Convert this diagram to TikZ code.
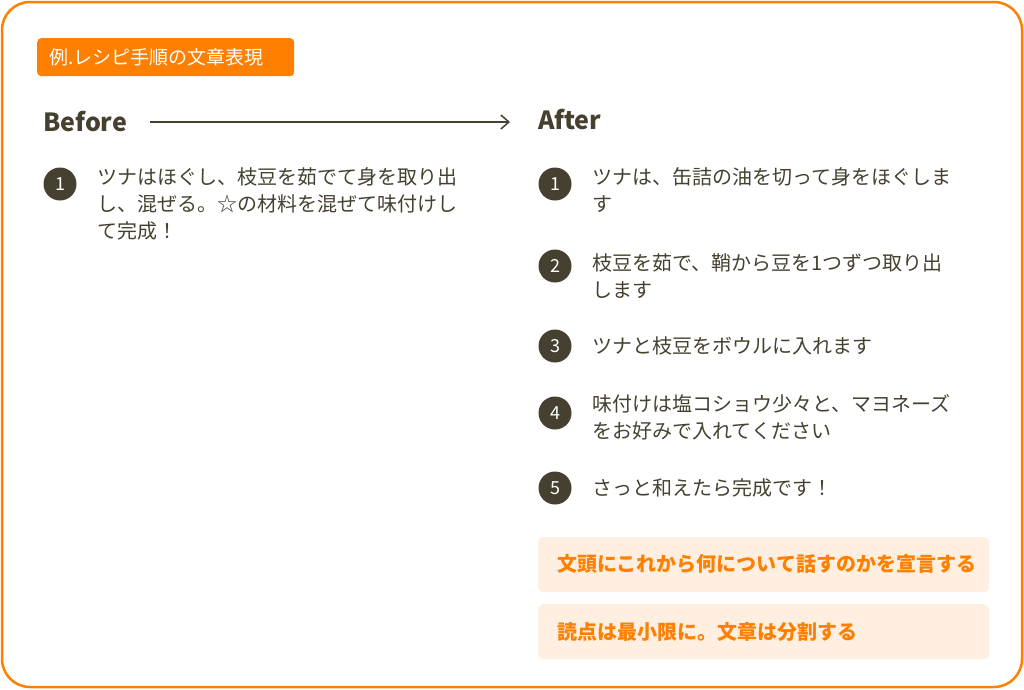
\documentclass[tikz,border=0pt]{standalone}
\usepackage{fontspec}
\setmainfont{Noto Sans CJK JP}
\usetikzlibrary{arrows.meta,positioning}
\definecolor{brandorange}{HTML}{FF8000}
\definecolor{inkdark}{HTML}{464030}
\definecolor{notefill}{HTML}{FFEFE0}

\begin{document}
\begin{tikzpicture}[
    x=1pt, y=-1pt,
    stepnum/.style={circle, fill=inkdark, text=white, minimum size=33pt, inner sep=0pt, font=\fontsize{18}{18}\selectfont},
    steptext/.style={anchor=west, text=inkdark, align=left, inner sep=0pt, font=\fontsize{20}{27}\selectfont},
    heading/.style={anchor=west, text=inkdark, inner sep=0pt, font=\fontsize{25}{25}\selectfont\bfseries},
    notebox/.style={rounded corners=5pt, fill=notefill, anchor=north west, minimum width=451pt, minimum height=55pt, inner sep=0pt},
    notetext/.style={anchor=west, text=brandorange, inner sep=0pt, font=\fontsize{20}{20}\selectfont\bfseries}
]
\useasboundingbox (0,0) rectangle (1024,689);

% Frame
\draw[brandorange, line width=2.5pt, rounded corners=28pt] (2,2) rectangle (1022,687);

% Tag
\node[fill=brandorange, rounded corners=4pt, anchor=north west, minimum width=257pt, minimum height=38pt, inner sep=0pt] (tag) at (37,38) {};
\node[anchor=west, text=white, inner sep=0pt, font=\fontsize{19}{19}\selectfont] (tagtext) at (49,57) {例.レシピ手順の文章表現};

% Headings
\node[heading] (before) at (43,122) {Before};
\node[heading] (after) at (538,120) {After};
\coordinate (arrowstart) at (150,122);
\coordinate (arrowend) at (510,122);
\draw[inkdark, line width=1.5pt, -{Straight Barb[length=8pt, width=14pt]}] (arrowstart) -- (arrowend);

% Before
\node[stepnum] (b1) at (60,184) {1};
\node[steptext] (bt1) at (97,204) {ツナはほぐし、枝豆を茹でて身を取り出\\し、混ぜる。☆の材料を混ぜて味付けし\\て完成！};

% After
\node[stepnum] (a1) at (555,184) {1};
\node[steptext] (at1) at (592,190) {ツナは、缶詰の油を切って身をほぐしま\\す};
\node[stepnum] (a2) at (555,266) {2};
\node[steptext] (at2) at (592,276) {枝豆を茹で、鞘から豆を1つずつ取り出\\します};
\node[stepnum] (a3) at (555,346) {3};
\node[steptext] (at3) at (592,346) {ツナと枝豆をボウルに入れます};
\node[stepnum] (a4) at (555,413) {4};
\node[steptext] (at4) at (592,417) {味付けは塩コショウ少々と、マヨネーズ\\をお好みで入れてください};
\node[stepnum] (a5) at (555,488) {5};
\node[steptext] (at5) at (592,488) {さっと和えたら完成です！};

% Notes
\node[notebox] (n1) at (538,537) {};
\node[notetext] (nt1) at (557,564) {文頭にこれから何について話すのかを宣言する};
\node[notebox] (n2) at (538,604) {};
\node[notetext] (nt2) at (557,632) {読点は最小限に。文章は分割する};
\end{tikzpicture}
\end{document}
